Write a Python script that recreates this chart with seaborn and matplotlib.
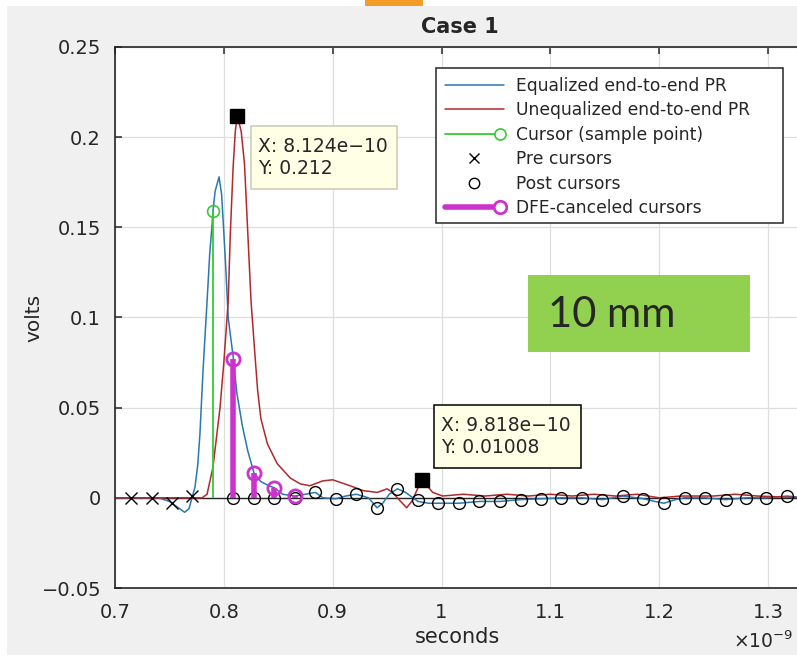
import numpy as np
import pandas as pd
import matplotlib
matplotlib.use("Agg")
import matplotlib.pyplot as plt
import seaborn as sns
from matplotlib.patches import Rectangle
from matplotlib.lines import Line2D
from matplotlib.legend_handler import HandlerBase

# ---------------- data (time in ns, i.e. seconds x 1e-9) ----------------
eq_t = [0.700, 0.740, 0.750, 0.7524, 0.757, 0.764, 0.768, 0.7712, 0.7735, 0.776, 0.778,
        0.781, 0.7846, 0.787, 0.789, 0.790, 0.792, 0.7956, 0.798, 0.800, 0.802, 0.804,
        0.8088, 0.812, 0.817, 0.822, 0.8276, 0.834, 0.842, 0.8464, 0.854, 0.8652, 0.875,
        0.8842, 0.891, 0.903, 0.912, 0.9218, 0.933, 0.9407, 0.946, 0.952, 0.9595, 0.967,
        0.9784, 0.988, 0.9972, 1.016, 1.0349, 1.0537, 1.0726, 1.0914, 1.1102, 1.1291,
        1.1479, 1.1668, 1.1856, 1.196, 1.2044, 1.215, 1.2233, 1.2421, 1.2610, 1.2798,
        1.2986, 1.3175, 1.334]
eq_v = [0.0, 0.0, -0.002, -0.003, -0.005, -0.008, -0.006, 0.001, 0.006, 0.018, 0.035,
        0.072, 0.109, 0.135, 0.150, 0.159, 0.170, 0.178, 0.168, 0.147, 0.125, 0.100,
        0.077, 0.058, 0.040, 0.026, 0.014, 0.009, 0.0065, 0.0056, 0.002, 0.001, 0.002,
        0.003, 0.0, -0.0005, 0.001, 0.002, 0.0, -0.0055, -0.003, 0.002, 0.005, 0.003,
        -0.002, -0.003, -0.003, -0.003, -0.002, -0.002, -0.001, -0.0005, 0.0, 0.0,
        -0.001, 0.001, -0.0005, -0.002, -0.003, -0.001, 0.0, 0.0, -0.001, 0.0,
        0.0, 0.001, 0.0]

uneq_t = [0.700, 0.770, 0.780, 0.7846, 0.790, 0.7965, 0.800, 0.804, 0.806, 0.8085,
          0.8105, 0.8124, 0.816, 0.819, 0.822, 0.825, 0.8285, 0.831, 0.834, 0.840,
          0.849, 0.861, 0.870, 0.879, 0.891, 0.900, 0.916, 0.928, 0.941, 0.950, 0.955,
          0.962, 0.968, 0.973, 0.9818, 0.992, 1.001, 1.02, 1.04, 1.06, 1.08, 1.10,
          1.12, 1.14, 1.16, 1.18, 1.20, 1.22, 1.25, 1.27, 1.29, 1.334]
uneq_v = [0.0, 0.0, 0.0, 0.002, 0.017, 0.050, 0.075, 0.109, 0.147, 0.183,
          0.203, 0.212, 0.203, 0.185, 0.147, 0.109, 0.080, 0.060, 0.044, 0.030,
          0.019, 0.011, 0.0078, 0.0067, 0.0094, 0.010, 0.0067, 0.004, 0.003, 0.005, 0.003,
          -0.0017, -0.0055, -0.0017, 0.01008, 0.003, 0.001, 0.002, 0.001, 0.002, 0.001, 0.002,
          0.001, 0.002, 0.001, 0.002, 0.0, 0.001, 0.001, 0.002, 0.001, 0.0]

cursor_t = [0.7900]
cursor_v = [0.159]

pre_t = [0.7148, 0.7336, 0.7524, 0.7712]
pre_v = [0.0, 0.0, -0.003, 0.001]

post_t = [0.8088, 0.8276, 0.8465, 0.8653, 0.8842, 0.9030, 0.9218, 0.9407, 0.9595,
          0.9784, 0.9972, 1.0160, 1.0349, 1.0537, 1.0726, 1.0914, 1.1102, 1.1291,
          1.1479, 1.1668, 1.1856, 1.2044, 1.2233, 1.2421, 1.2610, 1.2798, 1.2986, 1.3175]
post_v = [0.0, 0.0, 0.0, 0.0, 0.003, -0.0005, 0.002, -0.0055, 0.005,
          -0.001, -0.003, -0.003, -0.002, -0.002, -0.001, -0.0005, 0.0, 0.0,
          -0.001, 0.001, -0.0005, -0.003, 0.0, 0.0, -0.001, 0.0, 0.0, 0.001]

dfe_t = [0.8088, 0.8276, 0.8465, 0.8653]
dfe_v = [0.077, 0.014, 0.0056, 0.001]

tip_t = [0.8124, 0.9818]
tip_v = [0.212, 0.01008]

x_ticks = [0.7, 0.8, 0.9, 1.0, 1.1, 1.2, 1.3]
x_tick_labels = ["0.7", "0.8", "0.9", "1", "1.1", "1.2", "1.3"]
y_ticks = [-0.05, 0.0, 0.05, 0.1, 0.15, 0.2, 0.25]
y_tick_labels = ["\u22120.05", "0", "0.05", "0.1", "0.15", "0.2", "0.25"]

legend_labels = ["Equalized end-to-end PR", "Unequalized end-to-end PR",
                 "Cursor (sample point)", "Pre cursors", "Post cursors",
                 "DFE-canceled cursors"]
title_text = "Case 1"
x_label = "seconds"
y_label = "volts"
note_text = "10 mm"

# ---------------- style ----------------
sns.set_theme(style="white")
plt.rcParams["font.family"] = ["DejaVu Sans"]
plt.rcParams["axes.unicode_minus"] = True

BLUE = "#2a78ad"
RED = "#b3282c"
GREEN = "#33cc33"
MAG = "#cc33cc"
DARK = "#262626"

W, H = 797, 658
fig = plt.figure(figsize=(W / 100, H / 100), dpi=100)
fig.patch.set_facecolor("white")

# gray window background and orange strip at the top
fig.add_artist(Rectangle((7 / W, 1 - 655 / H), (W - 7) / W, (655 - 6) / H,
                         transform=fig.transFigure, facecolor="#f0f0f0",
                         edgecolor="none", zorder=-10))
fig.add_artist(Rectangle((365 / W, 1 - 6 / H), (423 - 365) / W, 6 / H,
                         transform=fig.transFigure, facecolor="#f39c27",
                         edgecolor="none", zorder=-9))

ax_l, ax_r, ax_t, ax_b = 115, 805, 47, 588
ax = fig.add_axes([ax_l / W, 1 - ax_b / H, (ax_r - ax_l) / W, (ax_b - ax_t) / H])
ax.set_facecolor("white")

px_per_unit = (768 - 115) / 0.6
x_max = 0.7 + (ax_r - ax_l) / px_per_unit
ax.set_xlim(0.7, x_max)
ax.set_ylim(-0.05, 0.25)

# grid
ax.set_xticks(x_ticks)
ax.set_xticklabels(x_tick_labels)
ax.set_yticks(y_ticks)
ax.set_yticklabels(y_tick_labels)
ax.grid(True, color="#dedede", lw=0.9)
ax.set_axisbelow(True)

# baseline of stems
ax.axhline(0, color=DARK, lw=1.0, zorder=1.5)

# curves
df_eq = pd.DataFrame({"t": eq_t, "v": eq_v})
df_uq = pd.DataFrame({"t": uneq_t, "v": uneq_v})
sns.lineplot(data=df_eq, x="t", y="v", ax=ax, color=BLUE, lw=1.1,
             estimator=None, sort=False, zorder=2)
sns.lineplot(data=df_uq, x="t", y="v", ax=ax, color=RED, lw=1.1,
             estimator=None, sort=False, zorder=2.1)

# main cursor stem
ax.vlines(cursor_t, 0, cursor_v, color=GREEN, lw=1.3, zorder=3)
ax.plot(cursor_t, cursor_v, ls="none", marker="o", ms=8.5, mfc="none",
        mec=GREEN, mew=1.2, zorder=3.1)

# pre / post cursors
ax.plot(pre_t, pre_v, ls="none", marker="x", ms=8, color="black", mew=1.0, zorder=3.2)
ax.plot(post_t, post_v, ls="none", marker="o", ms=8.5, mfc="none",
        mec="black", mew=1.0, zorder=3.2)

# DFE-cancelled cursors
ax.vlines(dfe_t, 0, dfe_v, color=MAG, lw=4, zorder=3.3)
ax.plot(dfe_t, dfe_v, ls="none", marker="o", ms=9.5, mfc="none",
        mec=MAG, mew=2.0, zorder=3.4)

# data tips
ax.plot(tip_t, tip_v, ls="none", marker="s", ms=10, color="black", zorder=4)

def tip_label(t, v):
    return "X: {:.4g}\nY: {:.4g}".format(t * 1e-9, v).replace("-", "\u2212")

def ax_x(px):
    return (px - ax_l) / (ax_r - ax_l)

def ax_y(py):
    return (ax_b - py) / (ax_b - ax_t)

tip_boxes = [(251, 126, 397, 189, "#c9c9b6"), (434, 405, 581, 468, "black")]
for (x0, y0, x1, y1, ec), t, v in zip(tip_boxes, tip_t, tip_v):
    ax.add_patch(Rectangle((ax_x(x0), ax_y(y1)), ax_x(x1) - ax_x(x0), ax_y(y0) - ax_y(y1),
                           transform=ax.transAxes, facecolor="#ffffe6", edgecolor=ec,
                           lw=1.1, zorder=5))
    ax.text(ax_x(x0 + 7), ax_y((y0 + y1) / 2), tip_label(t, v), transform=ax.transAxes,
            ha="left", va="center", fontsize=13.5, color=DARK, linespacing=1.25, zorder=6)

# legend with stem-like handles
class StemHandler(HandlerBase):
    def __init__(self, color, lw, ms, mew):
        super().__init__()
        self.c, self.lw, self.ms, self.mew = color, lw, ms, mew

    def create_artists(self, legend, orig, xdescent, ydescent, width, height,
                       fontsize, trans):
        y = height / 2 - ydescent
        ln = Line2D([-xdescent, width - xdescent - 3], [y, y], color=self.c, lw=self.lw,
                    transform=trans)
        mk = Line2D([width - xdescent - 3], [y], ls="none", marker="o", ms=self.ms,
                    mfc="white", mec=self.c, mew=self.mew, transform=trans)
        return [ln, mk]

# legend frame (MATLAB legends are wider than their text)
lg_x0, lg_y0, lg_x1, lg_y1 = 436, 68, 783, 223
ax.add_patch(Rectangle((ax_x(lg_x0), ax_y(lg_y1)), ax_x(lg_x1) - ax_x(lg_x0),
                       ax_y(lg_y0) - ax_y(lg_y1), transform=ax.transAxes,
                       facecolor="white", edgecolor=DARK, lw=1.1, zorder=6.5))

h_eq = Line2D([], [], color=BLUE, lw=1.1)
h_uq = Line2D([], [], color=RED, lw=1.1)
h_cur = Line2D([], [], color=GREEN)
h_pre = Line2D([], [], ls="none", marker="x", ms=7, color="black", mew=1.0)
h_post = Line2D([], [], ls="none", marker="o", ms=7.5, mfc="none", mec="black", mew=1.0)
h_dfe = Line2D([], [], color=MAG)
leg = ax.legend([h_eq, h_uq, h_cur, h_pre, h_post, h_dfe], legend_labels,
                loc="upper left", bbox_to_anchor=(ax_x(lg_x0), ax_y(lg_y0)),
                borderaxespad=0, fontsize=12.3, handlelength=3.5, handletextpad=0.7,
                labelspacing=0.38, borderpad=0.5, frameon=False,
                handler_map={h_cur: StemHandler(GREEN, 1.3, 8, 1.2),
                             h_dfe: StemHandler(MAG, 4, 9, 2.0)})
for txt in leg.get_texts():
    txt.set_color(DARK)
leg.set_zorder(7)

# axes cosmetics (MATLAB look)
for side in ["left", "bottom", "top"]:
    ax.spines[side].set_color(DARK)
    ax.spines[side].set_linewidth(1.2)
ax.spines["right"].set_visible(False)
ax.tick_params(axis="both", direction="in", length=5, width=1.1, color=DARK,
               labelsize=14, labelcolor=DARK)
ax.tick_params(axis="x", pad=11, top=True)
ax.tick_params(axis="y", pad=10, left=True)

ax.set_title(title_text, fontsize=15, fontweight="bold", color=DARK, pad=10)
ax.set_xlabel(x_label, fontsize=15, color=DARK)
ax.xaxis.set_label_coords(ax_x(457), ax_y(627))
ax.set_ylabel(y_label, fontsize=14.5, color=DARK)
ax.yaxis.set_label_coords(ax_x(43), ax_y(318))

fig.text(733 / W, 1 - 652 / H, r"$\times\mathregular{10^{-9}}$", fontsize=13.5,
         color=DARK, ha="left", va="bottom")

# green annotation box
fig.add_artist(Rectangle((528 / W, 1 - 352 / H), (750 - 528) / W, (352 - 275) / H,
                         transform=fig.transFigure, facecolor="#92d050",
                         edgecolor="none", zorder=8))
fig.text(548 / W, 1 - 315 / H, note_text, fontsize=30, family="Lato",
         color="#262626", ha="left", va="center", zorder=9)

fig.savefig("out.png", dpi=100)
